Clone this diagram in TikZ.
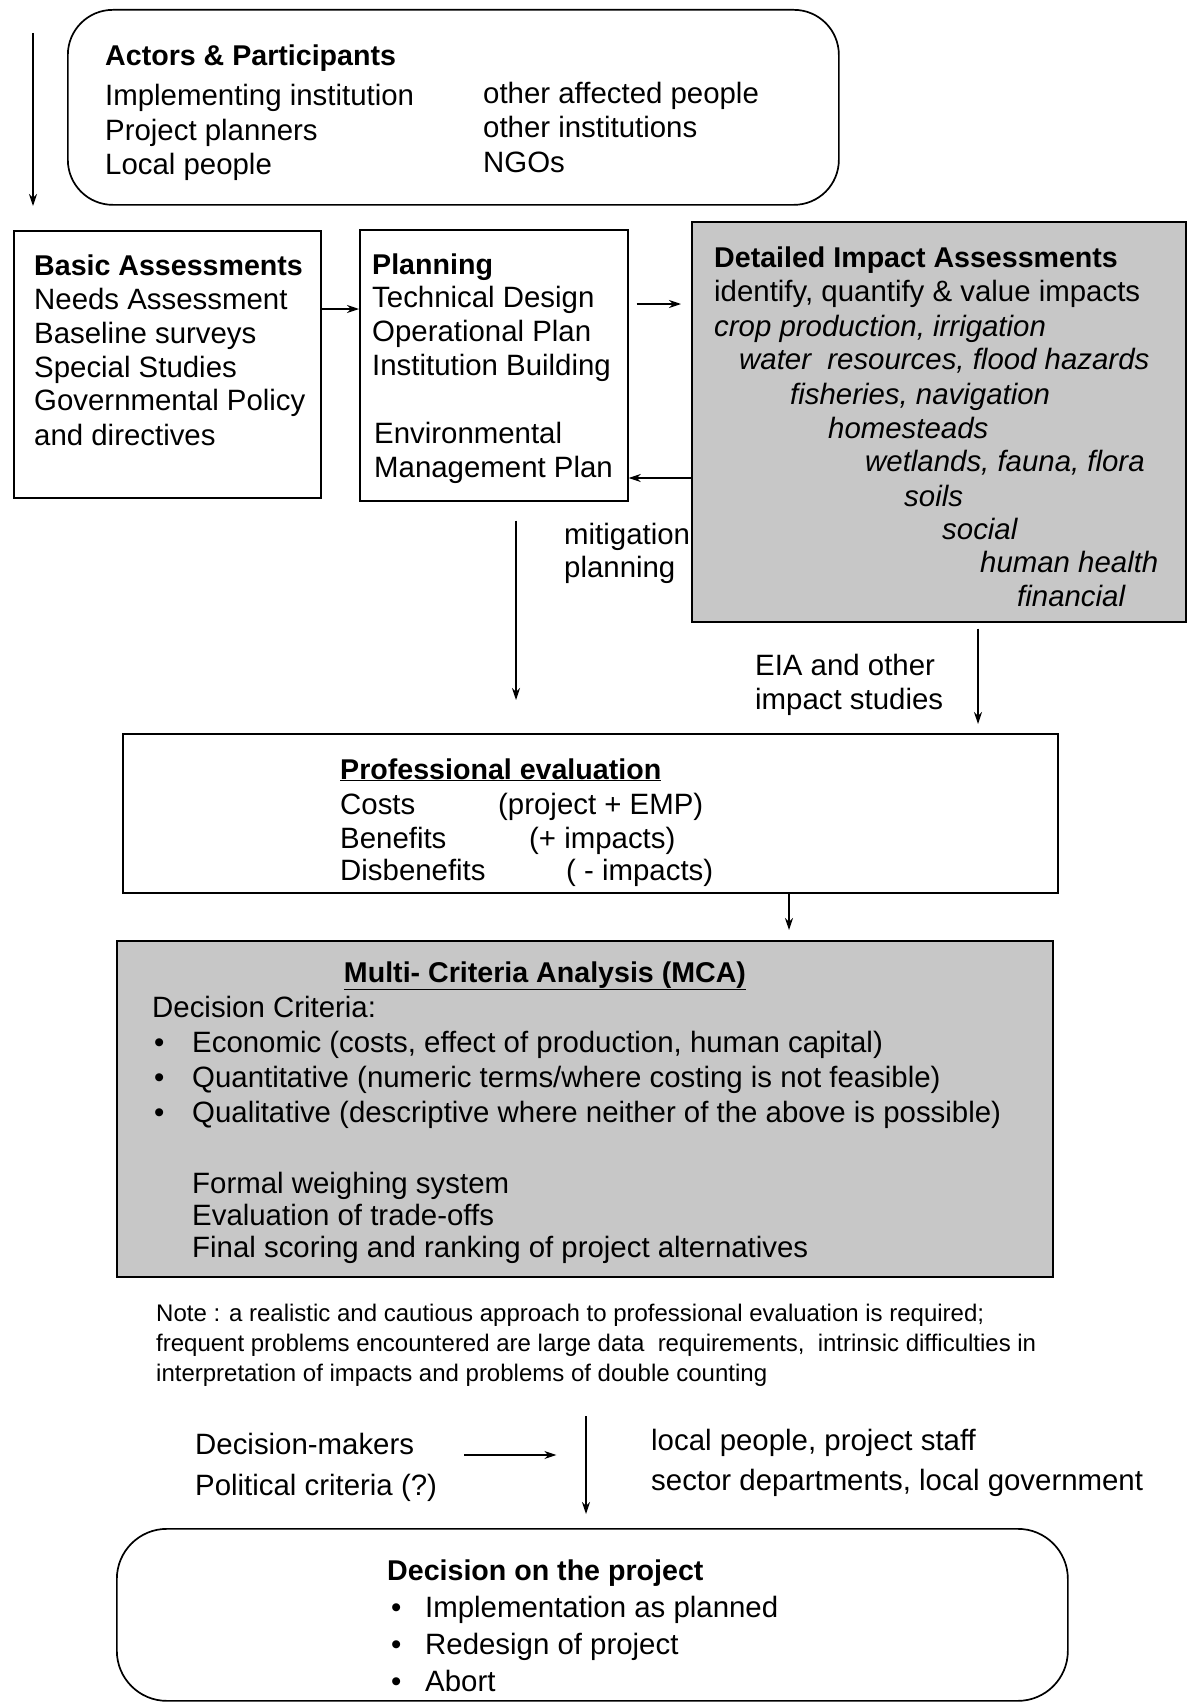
\documentclass[tikz,border=0pt]{standalone}
\usepackage{fontspec}
\setmainfont{Liberation Sans}
\usetikzlibrary{arrows.meta,calc}
\begin{document}
\begin{tikzpicture}[x=1pt,y=-1pt,
  box/.style={draw, line width=1.7pt, inner sep=0pt, anchor=north west},
  shadedbox/.style={box, fill=black!22},
  roundbox/.style={box, rounded corners=45pt},
  txt/.style={anchor=base west, inner sep=0pt, font=\fontsize{29.4}{34}\selectfont},
  headtxt/.style={anchor=base west, inner sep=0pt, font=\fontsize{28.6}{34}\selectfont\bfseries},
  notetxt/.style={anchor=base west, inner sep=0pt, font=\fontsize{24}{30}\selectfont},
  arr/.style={line width=1.3pt, -{Stealth[length=12pt,width=8pt]}},
]
\useasboundingbox (0,0) rectangle (1187,1702);
\fill[white] (0,0) rectangle (1187,1702);

% ---------- boxes ----------
\node[roundbox, minimum width=771pt, minimum height=195pt] (actors) at (67,9) {};
\node[box, minimum width=307pt, minimum height=267pt] (basic) at (13,230) {};
\node[box, minimum width=268pt, minimum height=271pt] (planning) at (359,229) {};
\node[shadedbox, minimum width=494pt, minimum height=400pt] (detailed) at (691,221) {};
\node[box, minimum width=935pt, minimum height=159pt] (prof) at (122,733) {};
\node[shadedbox, minimum width=936pt, minimum height=336pt] (mca) at (116,940) {};
\node[roundbox, rounded corners=50pt, minimum width=951pt, minimum height=172pt] (decision) at (116,1528) {};

% ---------- actors ----------
\node[headtxt] (actT) at (105,66) {Actors \& Participants};
\node[txt] (act1) at (105,105) {Implementing institution};
\node[txt] (act2) at (105,140) {Project planners};
\node[txt] (act3) at (105,174) {Local people};
\node[txt] (act4) at (483,103) {other affected people};
\node[txt] (act5) at (483,137) {other institutions};
\node[txt] (act6) at (483,172) {NGOs};

% ---------- basic assessments ----------
\node[headtxt] (basT) at (34,275) {Basic Assessments};
\node[txt] (bas1) at (34,309) {Needs Assessment};
\node[txt] (bas2) at (34,343) {Baseline surveys};
\node[txt] (bas3) at (34,377) {Special Studies};
\node[txt] (bas4) at (34,410) {Governmental Policy};
\node[txt] (bas5) at (34,445) {and directives};

% ---------- planning ----------
\node[headtxt] (plaT) at (372,274) {Planning};
\node[txt] (pla1) at (372,307) {Technical Design};
\node[txt] (pla2) at (372,341) {Operational Plan};
\node[txt] (pla3) at (372,375) {Institution Building};
\node[txt] (pla4) at (374,443) {Environmental};
\node[txt] (pla5) at (374,477) {Management Plan};

% ---------- detailed impact assessments ----------
\node[headtxt] (detT) at (714,267) {Detailed Impact Assessments};
\node[txt] (det1) at (714,301) {identify, quantify \& value impacts};
\node[txt] (det2) at (714,336) {\itshape crop production, irrigation};
\node[txt] (det3) at (739,369) {\itshape water\ \ resources, flood hazards};
\node[txt] (det4) at (790,404) {\itshape fisheries, navigation};
\node[txt] (det5) at (828,438) {\itshape homesteads};
\node[txt] (det6) at (865,471) {\itshape wetlands, fauna, flora};
\node[txt] (det7) at (904,506) {\itshape soils};
\node[txt] (det8) at (942,539) {\itshape social};
\node[txt] (det9) at (980,572) {\itshape human health};
\node[txt] (det10) at (1017,606) {\itshape financial};

% ---------- side labels ----------
\node[txt] (mit1) at (564,544) {mitigation};
\node[txt] (mit2) at (564,577) {planning};
\node[txt] (eia1) at (755,675) {EIA and other};
\node[txt] (eia2) at (755,709) {impact studies};

% ---------- professional evaluation ----------
\node[headtxt] (proT) at (340,779) {\underline{Professional evaluation}};
\node[txt] (pro1) at (340,814) {Costs};
\node[txt] (pro2) at (340,848) {Benefits};
\node[txt] (pro3) at (340,880) {Disbenefits};
\node[txt] (pro4) at (498,814) {(project + EMP)};
\node[txt] (pro5) at (529,848) {(+ impacts)};
\node[txt] (pro6) at (566,880) {( - impacts)};

% ---------- multi-criteria analysis ----------
\node[headtxt, anchor=base] (mcaT) at (545,982) {\underline{Multi- Criteria Analysis (MCA)}};
\node[txt] (mca0) at (152,1017) {Decision Criteria:};
\node[txt] (mcb1) at (154,1052) {\textbullet};
\node[txt] (mcb2) at (154,1087) {\textbullet};
\node[txt] (mcb3) at (154,1122) {\textbullet};
\node[txt] (mca1) at (192,1052) {Economic (costs, effect of production, human capital)};
\node[txt] (mca2) at (192,1087) {Quantitative (numeric terms/where costing is not feasible)};
\node[txt] (mca3) at (192,1122) {Qualitative (descriptive where neither of the above is possible)};
\node[txt] (mca4) at (192,1193) {Formal weighing system};
\node[txt] (mca5) at (192,1225) {Evaluation of trade-offs};
\node[txt] (mca6) at (192,1257) {Final scoring and ranking of project alternatives};

% ---------- note ----------
\node[notetxt] (note1) at (156,1321) {Note : a realistic and cautious approach to professional evaluation is required;};
\node[notetxt] (note2) at (156,1351) {frequent problems encountered are large data\ \ requirements,\ \ intrinsic difficulties in};
\node[notetxt] (note3) at (156,1381) {interpretation of impacts and problems of double counting};

% ---------- decision makers ----------
\node[txt] (dm) at (195,1454) {Decision-makers};
\node[txt] (pc) at (195,1495) {Political criteria (?)};
\node[txt] (lp) at (651,1450) {local people, project staff};
\node[txt] (sd) at (651,1490) {sector departments, local government};

% ---------- decision ----------
\node[headtxt] (decT) at (387,1580) {Decision on the project};
\node[txt] (deb1) at (391,1617) {\textbullet};
\node[txt] (deb2) at (391,1654) {\textbullet};
\node[txt] (deb3) at (391,1691) {\textbullet};
\node[txt] (dec1) at (425,1617) {Implementation as planned};
\node[txt] (dec2) at (425,1654) {Redesign of project};
\node[txt] (dec3) at (425,1691) {Abort};

% ---------- connectors ----------
\coordinate (lstart) at (33,33);
\coordinate (lend) at (33,206);
\draw[arr] (lstart) -- (lend);

\coordinate (yA) at (0,309);
\coordinate (yB) at (0,304);
\coordinate (yC) at (0,478);
\coordinate (xD) at (516,0);
\coordinate (xE) at (978,0);
\coordinate (xF) at (789,0);
\coordinate (xG) at (586,0);

\draw[arr] (basic.east |- yA) -- (planning.west |- yA);
\draw[arr] ($(planning.east |- yB)+(8,0)$) -- ($(detailed.west |- yB)+(-10,0)$);
\draw[arr] (detailed.west |- yC) -- (planning.east |- yC);
\draw[arr] ($(planning.south -| xD)+(0,19)$) -- ($(prof.north -| xD)+(0,-33)$);
\draw[arr] ($(detailed.south -| xE)+(0,6)$) -- ($(prof.north -| xE)+(0,-9)$);
\draw[arr] (prof.south -| xF) -- ($(mca.north -| xF)+(0,-10)$);
\draw[arr] ($(dm.base east)+(50,1)$) -- ++(92,0);
\draw[arr] ($(decision.north -| xG)+(0,-112)$) -- ($(decision.north -| xG)+(0,-14)$);
\end{tikzpicture}
\end{document}
